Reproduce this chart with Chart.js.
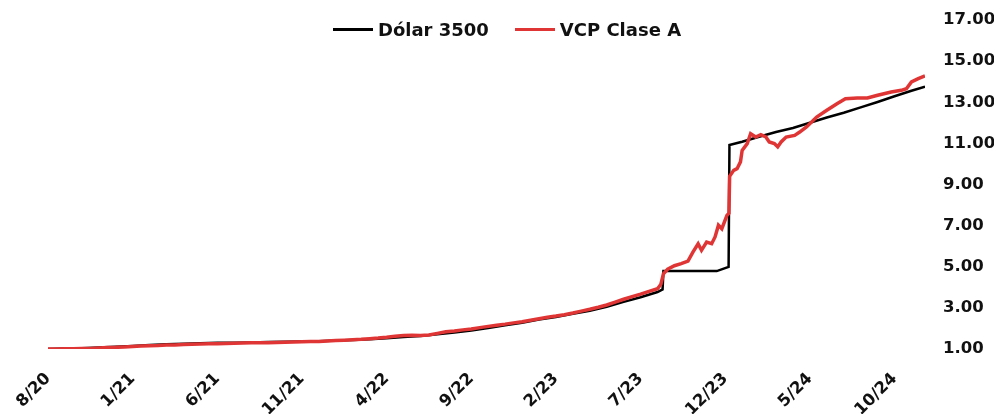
<!DOCTYPE html>
<html lang="es">

<head>
  <meta charset="UTF-8">
  <title>Dólar 3500 vs VCP Clase A</title>
  <script src="https://cdn.jsdelivr.net/npm/chart.js"></script>
  <style>
    * {
      margin: 0;
      padding: 0;
      box-sizing: border-box;
    }

    body {
      background: #fff;
      font-family: 'DejaVu Sans', sans-serif;
    }

    .wrap {
      position: relative;
      width: 994px;
      height: 414px;
    }

    /* legend sits over the plot, like in the original */
    #leyenda {
      position: absolute;
      top: 18px;
      left: 20px;
      right: 0;
      height: 22px;
      display: flex;
      justify-content: center;
      align-items: center;
      gap: 26px;
      font-weight: bold;
      font-size: 18px;
      color: #111;
    }

    #leyenda .item {
      display: flex;
      align-items: center;
      gap: 5px;
    }

    #leyenda .linea {
      width: 40px;
      height: 3px;
    }
  </style>
</head>

<body>
  <div class="wrap">
    <canvas id="grafico"></canvas>
    <div id="leyenda"></div>
  </div>

  <script>
    // eje x: meses desde 8/20
    const etiquetasX = ['8/20', '1/21', '6/21', '11/21', '4/22', '9/22', '2/23', '7/23', '12/23', '5/24', '10/24'];

    const dolarMes = [0, 1, 2, 3, 4, 5, 6, 7, 8, 9, 10, 11, 12, 13, 14, 15, 16, 17, 18, 19, 20,
      21, 22, 23, 24, 25, 26, 27, 28, 29, 30, 31, 32, 33, 34, 35, 36, 36.3, 36.35, 39.5, 40.2,
      40.25, 41, 42, 43, 44, 45, 46, 47, 48, 49, 50, 51, 51.8];
    const dolarValor = [1.00, 1.02, 1.04, 1.07, 1.11, 1.15, 1.20, 1.23, 1.26, 1.28, 1.30, 1.31, 1.32,
      1.34, 1.35, 1.37, 1.38, 1.41, 1.44, 1.47, 1.52, 1.58, 1.63, 1.72, 1.80, 1.90, 2.02, 2.15, 2.28,
      2.43, 2.56, 2.71, 2.86, 3.05, 3.29, 3.52, 3.77, 3.90, 4.79, 4.79, 4.99, 10.92, 11.08, 11.32,
      11.55, 11.75, 12.00, 12.26, 12.49, 12.75, 13.01, 13.29, 13.56, 13.76];

    const vcpMes = [0, 0.5, 1, 1.5, 2, 2.5, 3, 3.5, 4, 4.5, 5, 5.5, 6, 6.5, 7, 7.5, 8, 8.5, 9, 9.5,
      10, 10.5, 11, 11.5, 12, 12.5, 13, 13.5, 14, 14.5, 15, 15.5, 16, 16.5, 17, 17.5, 18, 18.5, 19,
      19.5, 20, 20.5, 21, 21.5, 22, 22.5, 23, 23.5, 24, 24.5, 25, 25.5, 26, 26.5, 27, 27.5, 28, 28.5,
      29, 29.5, 30, 30.5, 31, 31.5, 32, 32.5, 33, 33.5, 34, 34.5, 35, 35.5, 36, 36.2, 36.35, 36.6,
      37, 37.4, 37.8, 38.1, 38.4, 38.6, 38.9, 39.2, 39.4, 39.6, 39.8, 40.1, 40.22, 40.26, 40.5,
      40.7, 40.9, 41.0, 41.3, 41.5, 41.8, 42.1, 42.4, 42.6, 42.9, 43.1, 43.3, 43.6, 44.1, 44.4,
      44.8, 45.4, 46.0, 46.6, 47.1, 47.8, 48.4, 49.0, 49.8, 50.4, 50.7, 51.0, 51.4, 51.8];
    const vcpValor = [1.00, 1.00, 1.01, 1.01, 1.02, 1.03, 1.05, 1.07, 1.08, 1.10, 1.12, 1.14, 1.16,
      1.17, 1.19, 1.20, 1.22, 1.23, 1.24, 1.25, 1.26, 1.27, 1.28, 1.29, 1.30, 1.30, 1.31, 1.32, 1.33,
      1.34, 1.35, 1.36, 1.37, 1.39, 1.41, 1.43, 1.45, 1.47, 1.50, 1.53, 1.57, 1.62, 1.66, 1.67, 1.66,
      1.68, 1.76, 1.84, 1.88, 1.93, 1.97, 2.04, 2.10, 2.16, 2.21, 2.27, 2.33, 2.40, 2.47, 2.54, 2.60,
      2.67, 2.75, 2.84, 2.93, 3.03, 3.14, 3.28, 3.42, 3.55, 3.67, 3.80, 3.93, 4.15, 4.66, 4.88, 5.05,
      5.15, 5.27, 5.72, 6.12, 5.80, 6.20, 6.12, 6.45, 7.02, 6.85, 7.50, 7.60, 9.40, 9.69, 9.77,
      10.10, 10.66, 10.99, 11.47, 11.31, 11.42, 11.31, 11.07, 10.99, 10.83, 11.07, 11.31, 11.39,
      11.55, 11.80, 12.28, 12.61, 12.93, 13.17, 13.21, 13.21, 13.34, 13.50, 13.58, 13.66, 13.99,
      14.15, 14.28];

    const puntos = (xs, ys) => xs.map((x, i) => ({ x: x, y: ys[i] }));

    const fuente = { family: "'DejaVu Sans', sans-serif", weight: 'bold', size: 16.5 };

    const chart = new Chart(document.getElementById('grafico'), {
      type: 'line',
      data: {
        datasets: [{
            label: 'Dólar 3500',
            data: puntos(dolarMes, dolarValor),
            borderColor: '#000000',
            backgroundColor: '#000000',
            borderWidth: 2.5,
            order: 1,
          },
          {
            label: 'VCP Clase A',
            data: puntos(vcpMes, vcpValor),
            borderColor: '#e03535',
            backgroundColor: '#e03535',
            borderWidth: 3.5,
            order: 0,
          },
        ],
      },
      options: {
        responsive: true,
        maintainAspectRatio: false,
        animation: false,
        layout: {
          padding: { top: 20, left: 48, right: 0, bottom: 0 }
        },
        elements: {
          point: { radius: 0 },
          line: { tension: 0 },
        },
        plugins: {
          legend: { display: false },
          tooltip: { enabled: false },
        },
        scales: {
          x: {
            type: 'linear',
            min: 0,
            max: 51.8,
            grid: { display: false, drawTicks: false },
            border: { display: false },
            // fixed size so the plot area lines up with the original
            afterFit: (scale) => {
              scale.height = 65;
              scale.paddingLeft = 0;
              scale.paddingRight = 0;
            },
            ticks: {
              stepSize: 5,
              includeBounds: false,
              autoSkip: false,
              minRotation: 45,
              maxRotation: 45,
              padding: 20,
              color: '#111',
              font: fuente,
              callback: (v) => etiquetasX[v / 5],
            },
          },
          y: {
            position: 'right',
            min: 1,
            max: 17,
            grid: { display: false, drawTicks: false },
            border: { display: false },
            afterFit: (scale) => {
              scale.width = 69;
              scale.paddingTop = 0;
              scale.paddingBottom = 0;
            },
            ticks: {
              stepSize: 2,
              padding: 18,
              color: '#111',
              font: fuente,
              callback: (v) => v.toFixed(2),
            },
          },
        },
      },
    });

    // leyenda en HTML a partir de los datasets
    const leyenda = document.getElementById('leyenda');
    chart.data.datasets.forEach(ds => {
      const item = document.createElement('div');
      item.className = 'item';
      const linea = document.createElement('span');
      linea.className = 'linea';
      linea.style.background = ds.borderColor;
      const texto = document.createElement('span');
      texto.textContent = ds.label;
      item.appendChild(linea);
      item.appendChild(texto);
      leyenda.appendChild(item);
    });
  </script>
</body>

</html>
